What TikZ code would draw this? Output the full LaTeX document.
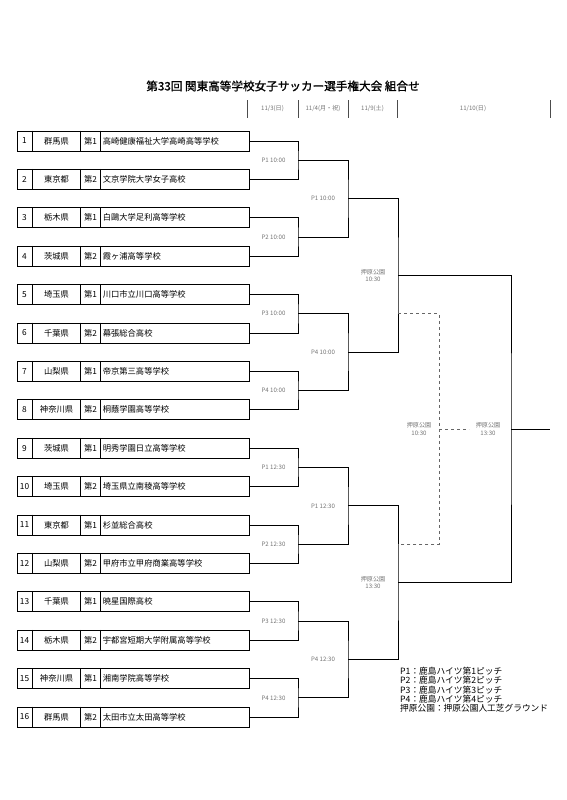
\documentclass[tikz,border=0pt]{standalone}
\usepackage{fontspec}
\setmainfont[AutoFakeBold=1.2]{Noto Sans CJK JP}
\begin{document}
\begin{tikzpicture}[x=1pt,y=-1pt,
  team/.style={draw,line width=0.9pt,minimum width=232pt,minimum height=20pt,inner sep=0pt},
  txt/.style={font=\fontsize{8.3}{10}\selectfont,inner sep=0pt},
  lab/.style={text=black!55,font=\fontsize{6.1}{7.6}\selectfont,align=center,inner sep=0pt},
  wire/.style={line width=0.9pt},
  loser/.style={dashed,black!60,line width=0.7pt}]
  \useasboundingbox (0,0) rectangle (566,800);
  % title and days
  \node[font=\fontsize{11.6}{13}\selectfont\bfseries] (title) at (283,86) {第33回 関東高等学校女子サッカー選手権大会 組合せ};
  \foreach \x in {247,298,348,397,550} \draw[line width=0.9pt,black!70] (\x,100) -- (\x,118);
  \node[lab] (day1) at (272.5,109) {11/3(日)};
  \node[lab] (day2) at (323,109) {11/4(月・祝)};
  \node[lab] (day3) at (372.5,109) {11/9(土)};
  \node[lab] (day4) at (473,109) {11/10(日)};
  % teams
  \foreach \i/\pref/\seed/\school in {1/群馬県/1/高崎健康福祉大学高崎高等学校,2/東京都/2/文京学院大学女子高校,
      3/栃木県/1/白鷗大学足利高等学校,4/茨城県/2/霞ヶ浦高等学校,5/埼玉県/1/川口市立川口高等学校,
      6/千葉県/2/幕張総合高校,7/山梨県/1/帝京第三高等学校,8/神奈川県/2/桐蔭学園高等学校,
      9/茨城県/1/明秀学園日立高等学校,10/埼玉県/2/埼玉県立南稜高等学校,11/東京都/1/杉並総合高校,
      12/山梨県/2/甲府市立甲府商業高等学校,13/千葉県/1/暁星国際高校,14/栃木県/2/宇都宮短期大学附属高等学校,
      15/神奈川県/1/湘南学院高等学校,16/群馬県/2/太田市立太田高等学校} {
    \pgfmathsetmacro\yy{141+38.4*(\i-1)}
    \node[team] (t\i) at (133,\yy) {};
    \foreach \d in {16,64,84}
      \draw[line width=0.9pt] ([xshift=\d pt]t\i.north west) -- ([xshift=\d pt]t\i.south west);
    \node[txt] (no\i) at ([xshift=8pt]t\i.west) {\i};
    \node[txt] (pref\i) at ([xshift=40pt]t\i.west) {\pref};
    \node[txt] (seed\i) at ([xshift=74pt]t\i.west) {第\seed};
    \node[txt,anchor=west] (school\i) at ([xshift=86pt]t\i.west) {\school};
  }
  % first round
  \foreach \j/\lbl in {1/P1 10:00,2/P2 10:00,3/P3 10:00,4/P4 10:00,5/P1 12:30,6/P2 12:30,7/P3 12:30,8/P4 12:30} {
    \pgfmathtruncatemacro\a{2*\j-1}
    \pgfmathtruncatemacro\b{2*\j}
    \coordinate (r1-\j) at (298,{141+38.4*(2*\j-1.5)});
    \draw[wire] (t\a.east) -| (r1-\j) |- (t\b.east);
    \node[lab] (l1-\j) at ([xshift=-24.5pt]r1-\j) {\lbl};
  }
  % second round
  \foreach \k/\lbl in {1/P1 10:00,2/P4 10:00,3/P1 12:30,4/P4 12:30} {
    \pgfmathtruncatemacro\a{2*\k-1}
    \pgfmathtruncatemacro\b{2*\k}
    \coordinate (r2-\k) at (348,{141+38.4*(4*\k-2.5)});
    \draw[wire] (r1-\a) -| (r2-\k) |- (r1-\b);
    \node[lab] (l2-\k) at ([xshift=-25pt]r2-\k) {\lbl};
  }
  % semi finals
  \foreach \m/\lbl in {1/10:30,2/13:30} {
    \pgfmathtruncatemacro\a{2*\m-1}
    \pgfmathtruncatemacro\b{2*\m}
    \coordinate (r3-\m) at (398,{141+38.4*(8*\m-4.5)});
    \draw[wire] (r2-\a) -| (r3-\m) |- (r2-\b);
    \node[lab] (l3-\m) at ([xshift=-25pt]r3-\m) {押原公園\\\lbl};
  }
  % final
  \coordinate (fin) at (511,429);
  \coordinate (champ) at (550,429);
  \draw[wire] (r3-1) -| (fin) |- (r3-2);
  \draw[wire] (fin) -- (champ);
  \node[lab] (lfin) at ([xshift=-23pt]fin) {押原公園\\13:30};
  % dashed match
  \coordinate (ls-a) at (r3-1 |- r1-3);
  \coordinate (ls-b) at (r3-2 |- r1-6);
  \coordinate (pl) at (439,429);
  \coordinate (pl-out) at (469,429);
  \draw[loser] (ls-a) -| (pl) |- (ls-b);
  \draw[loser] (pl) -- (pl-out);
  \node[lab] (lpl) at ([xshift=-20pt]pl) {押原公園\\10:30};
  % legend
  \node[anchor=north west,align=left,inner sep=0pt,font=\fontsize{8.7}{9.3}\selectfont] (legend) at (400,667)
    {P1：鹿島ハイツ第1ピッチ\\P2：鹿島ハイツ第2ピッチ\\P3：鹿島ハイツ第3ピッチ\\P4：鹿島ハイツ第4ピッチ\\押原公園：押原公園人工芝グラウンド};
\end{tikzpicture}
\end{document}
